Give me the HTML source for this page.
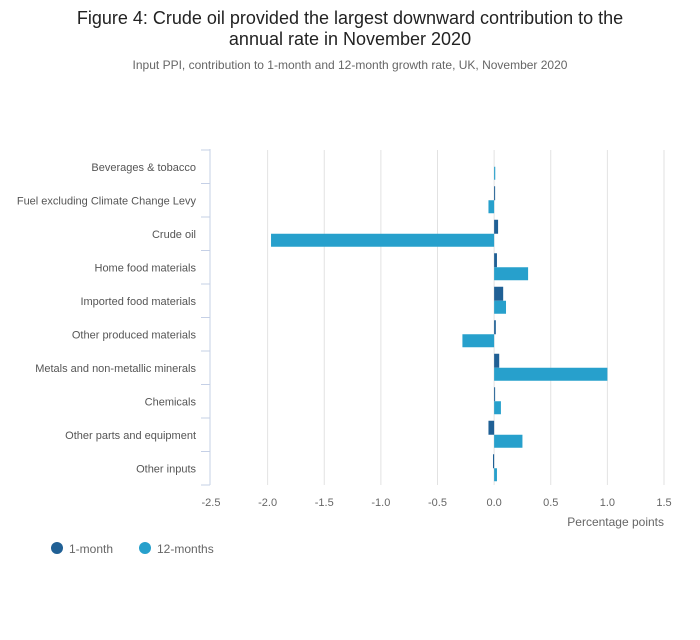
<!DOCTYPE html>
<html><head><meta charset="utf-8"><style>
body{margin:0;background:#fff;width:700px;height:635px;overflow:hidden;font-family:"Liberation Sans",sans-serif}
</style></head><body>
<svg id="chart" width="700" height="635" xmlns="http://www.w3.org/2000/svg" font-family="Liberation Sans, sans-serif">
<text x="350" y="24" text-anchor="middle" font-size="18" fill="#222">Figure 4: Crude oil provided the largest downward contribution to the</text>
<text x="350" y="45" text-anchor="middle" font-size="18" fill="#222">annual rate in November 2020</text>
<text x="350" y="69" text-anchor="middle" font-size="12" fill="#666">Input PPI, contribution to 1-month and 12-month growth rate, UK, November 2020</text>
<g id="grid"></g><g id="bars"></g><g id="yaxis"></g><g id="xaxis"></g>
<text x="664" y="526" text-anchor="end" font-size="12" fill="#666">Percentage points</text>
<g>
<g><circle cx="57" cy="548" r="6" fill="#206095"/><text x="69" y="553" font-size="12" fill="#666">1-month</text></g>
<g><circle cx="145" cy="548" r="6" fill="#27a0cc"/><text x="157" y="553" font-size="12" fill="#666">12-months</text></g>
</g>
</svg>
<script>
const categories=["Beverages & tobacco","Fuel excluding Climate Change Levy","Crude oil","Home food materials","Imported food materials","Other produced materials","Metals and non-metallic minerals","Chemicals","Other parts and equipment","Other inputs"];
const oneMonth=[0.0,0.005,0.035,0.025,0.08,0.015,0.045,0.005,-0.05,-0.01];
const twelveMonths=[0.01,-0.05,-1.97,0.30,0.105,-0.28,1.0,0.06,0.25,0.025];
const xTicks=[-2.5,-2.0,-1.5,-1.0,-0.5,0.0,0.5,1.0,1.5];
const NS="http://www.w3.org/2000/svg";
const x0=211,x1=664,plotTop=150,rowH=33.5;
function xs(v){return x0+(v-(-2.5))/(1.5-(-2.5))*(x1-x0);}
function ys(i){return plotTop+i*rowH;}
function bw(v){const w=Math.abs(xs(v)-xs(0));return v===0?0:Math.max(1,w);}
function mk(tag,attrs,parent){const e=document.createElementNS(NS,tag);for(const k in attrs)e.setAttribute(k,attrs[k]);document.getElementById(parent).appendChild(e);return e;}
const plotBottom=ys(categories.length);
xTicks.forEach((t,i)=>{
  if(i>0){const g=mk('line',{x1:xs(t),x2:xs(t),y1:plotTop,y2:plotBottom,stroke:'#e2e2e2','stroke-width':1},'grid');
  
  }
  const l=mk('text',{x:xs(t),y:506,'text-anchor':'middle','font-size':11,fill:'#666'},'xaxis');
  l.textContent=t.toFixed(1);
  
  
});
const ax=mk('line',{x1:210,x2:210,y1:plotTop-1,y2:plotBottom,stroke:'#c5d0e6','stroke-width':1},'yaxis');


for(let i=0;i<=categories.length;i++){
  const t=mk('line',{x1:201,x2:210,y1:ys(i),y2:ys(i),stroke:'#c5d0e6'},'yaxis');
  
  
}
categories.forEach((c,i)=>{
  const cy=ys(i)+rowH/2;
  const l=mk('text',{x:196,y:cy+4,'text-anchor':'end','font-size':11,fill:'#555'},'yaxis');
  l.textContent=c;
  
  
  const v1=oneMonth[i],v2=twelveMonths[i];
  const b1=mk('rect',{x:Math.min(xs(0),xs(v1)),y:cy-14,width:bw(v1),height:14,fill:'#206095'},'bars');
  
  
  const b2=mk('rect',{x:Math.min(xs(0),xs(v2)),y:cy,width:bw(v2),height:13,fill:'#27a0cc'},'bars');
  
  
});
</script>
</body></html>
